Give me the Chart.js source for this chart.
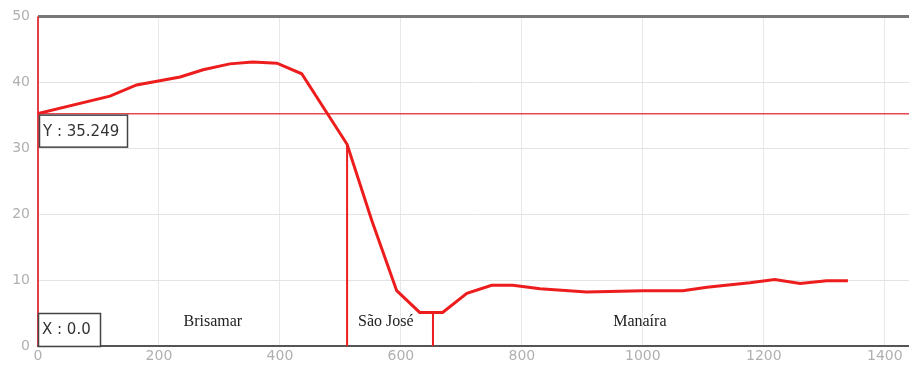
<!DOCTYPE html>
<html>
<head>
<meta charset="utf-8">
<script src="https://cdn.jsdelivr.net/npm/chart.js@4"></script>
<style>
  body { margin: 0; background: #fff; }
  #wrap { width: 909px; height: 367px; }
</style>
</head>
<body>
<div id="wrap"><canvas id="myChart" width="909" height="367"></canvas></div>
<script>
// profile: distance (x) vs elevation (y)
const distance = [0, 119, 163, 235, 273, 317, 355, 395, 436, 511, 552, 593, 631, 669, 709, 750, 785, 830, 907, 1000, 1066, 1106, 1177, 1218, 1260, 1304, 1339];
const height = [35.249, 37.9, 39.6, 40.8, 41.9, 42.8, 43.1, 42.9, 41.3, 30.6, 19, 8.4, 5.1, 5.1, 8.0, 9.2, 9.2, 8.7, 8.2, 8.4, 8.4, 8.9, 9.6, 10.1, 9.5, 9.9, 9.9];

// neighbourhood boundaries
const boundaryX = [511, 653];
const boundaryY = [30.6, 5.1];

// neighbourhood names and where they sit
const regionNames = ["Brisamar", "São José", "Manaíra"];
const regionX = [289, 575, 995];
const regionY = [3.7, 3.7, 3.7];

// cursor readout
const cursorX = 0;
const cursorY = 35.249;

const xTicks = [0, 200, 400, 600, 800, 1000, 1200, 1400];
const yTicks = [0, 10, 20, 30, 40, 50];
const xMax = 1440;
const yMax = 50;

const red = "#ee1d1d";
const tickFont = { size: 14, family: "'DejaVu Sans', sans-serif" };

const datasets = [
  {
    data: distance.map((d, i) => ({ x: d, y: height[i] })),
    borderColor: red, borderWidth: 3, pointRadius: 0, tension: 0
  },
  {
    data: [{ x: cursorX, y: cursorY }, { x: xMax, y: cursorY }],
    borderColor: "rgba(228,40,50,0.85)", borderWidth: 1.5, pointRadius: 0
  },
  {
    data: [{ x: cursorX, y: 0 }, { x: cursorX, y: yMax }],
    borderColor: "rgba(228,40,50,0.9)", borderWidth: 2, pointRadius: 0, clip: false
  }
];
boundaryX.forEach((bx, i) => {
  datasets.push({
    data: [{ x: bx, y: 0 }, { x: bx, y: boundaryY[i] }],
    borderColor: red, borderWidth: 2, pointRadius: 0
  });
});

const overlay = {
  id: "overlay",
  afterDatasetsDraw(chart) {
    const c = chart.ctx;
    const xs = chart.scales.x, ys = chart.scales.y;
    c.save();
    // region names
    c.font = "16px 'Liberation Serif', serif";
    c.fillStyle = "#222";
    c.textAlign = "center";
    c.textBaseline = "middle";
    regionNames.forEach((n, i) => {
      c.fillText(n, xs.getPixelForValue(regionX[i]), ys.getPixelForValue(regionY[i]));
    });
    // readout boxes
    function box(text, x, y, w, h) {
      c.fillStyle = "rgba(255,255,255,0.92)";
      c.fillRect(x, y, w, h);
      c.strokeStyle = "#444";
      c.lineWidth = 1.5;
      c.strokeRect(x + 0.5, y + 0.5, w, h);
      c.fillStyle = "#333";
      c.font = "15px 'DejaVu Sans', sans-serif";
      c.textAlign = "left";
      c.fillText(text, x + 4, y + h / 2 + 1);
    }
    const px = xs.getPixelForValue(cursorX);
    box("Y : " + cursorY.toFixed(3), px + 1, ys.getPixelForValue(cursorY) + 1, 88, 32);
    box("X : " + cursorX.toFixed(1), px, ys.getPixelForValue(0) - 33, 62, 33);
    c.restore();
  }
};

var myChart = new Chart(document.getElementById("myChart"), {
  type: "line",
  data: { datasets: datasets },
  options: {
    responsive: false,
    animation: false,
    layout: { padding: { top: 14, right: 0, left: 0, bottom: 0 } },
    plugins: { legend: { display: false }, tooltip: { enabled: false } },
    scales: {
      x: {
        type: "linear", min: 0, max: xMax,
        afterBuildTicks: (s) => { s.ticks = xTicks.map(v => ({ value: v })); },
        afterFit: (s) => { s.height = 21; },
        ticks: { color: "#b0b0b0", font: tickFont, padding: 2, maxRotation: 0, callback: (v) => String(v) },
        grid: { color: "#e8e8e8", lineWidth: 1, drawTicks: false },
        border: { color: "#555", width: 2 }
      },
      y: {
        min: 0, max: yMax,
        afterBuildTicks: (s) => { s.ticks = yTicks.map(v => ({ value: v })); },
        afterFit: (s) => { s.width = 38; },
        ticks: { color: "#b0b0b0", font: tickFont, padding: 8, callback: (v) => String(v) },
        grid: {
          color: (ctx) => ctx.tick && ctx.tick.value === yMax ? "#777" : "#e3e3e3",
          lineWidth: (ctx) => ctx.tick && ctx.tick.value === yMax ? 3 : 1,
          drawTicks: false
        },
        border: { display: false }
      }
    }
  },
  plugins: [overlay]
});
</script>
</body>
</html>
